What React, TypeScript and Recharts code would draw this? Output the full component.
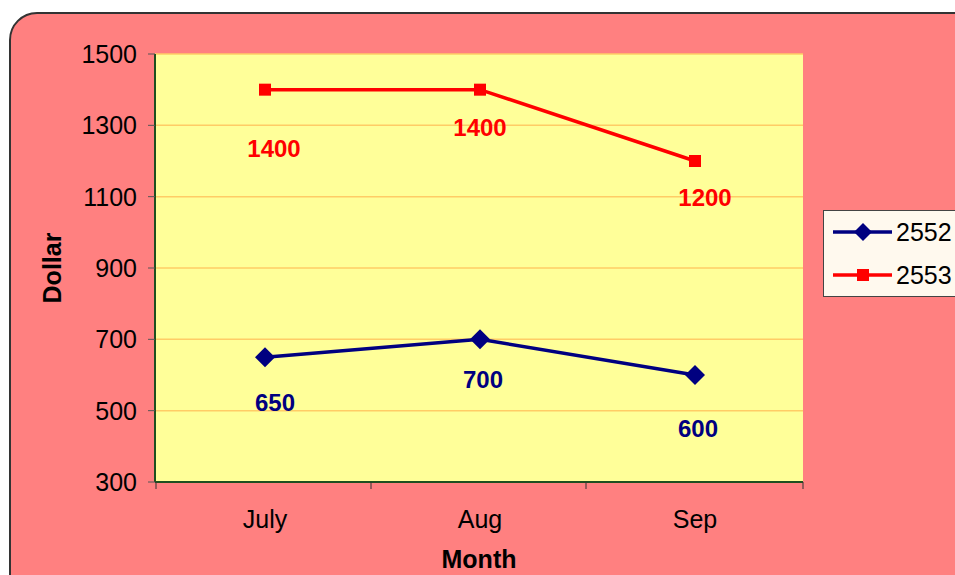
import { CartesianGrid, Line, LineChart, XAxis, YAxis } from "recharts";

const months = ["July", "Aug", "Sep"];
const values2552 = [650, 700, 600];
const values2553 = [1400, 1400, 1200];
const yTicks = [300, 500, 700, 900, 1100, 1300, 1500];

const data = months.map((month, i) => ({
  month,
  y2552: values2552[i],
  y2553: values2553[i],
}));

// label placement tweaks (Excel puts "below" labels a bit unevenly)
const blueLabelShift = [
  [10, 45],
  [3, 40],
  [3, 53],
];
const redLabelShift = [
  [9, 59],
  [0, 38],
  [10, 36],
];

const FONT = "'Liberation Sans', Arial, sans-serif";
const BLUE = "#000080";
const RED = "#FF0000";
const AXIS = "#1F4F1F";

function Diamond(props: any) {
  const { cx, cy } = props;
  if (cx == null || cy == null) return null;
  const r = 10;
  return (
    <path
      d={`M${cx},${cy - r}L${cx + r},${cy}L${cx},${cy + r}L${cx - r},${cy}Z`}
      fill={BLUE}
    />
  );
}

function Square(props: any) {
  const { cx, cy } = props;
  if (cx == null || cy == null) return null;
  return <rect x={cx - 6} y={cy - 6} width={12} height={12} fill={RED} />;
}

function makeLabel(color: string, shifts: number[][]) {
  return (props: any) => {
    const { x, y, value, index } = props;
    const [dx, dy] = shifts[index] || [0, 40];
    return (
      <text
        x={x + dx}
        y={y + dy}
        textAnchor="middle"
        dominantBaseline="central"
        fill={color}
        fontSize={24}
        fontWeight="bold"
        fontFamily={FONT}
      >
        {value}
      </text>
    );
  };
}

function MonthTick(props: any) {
  const { x, y, payload, index, visibleTicksCount } = props;
  const axisY = y - 8;
  return (
    <g>
      <line x1={x - 109} y1={axisY} x2={x - 109} y2={axisY + 7} stroke="#333" />
      {index === visibleTicksCount - 1 && (
        <line x1={x + 108} y1={axisY} x2={x + 108} y2={axisY + 7} stroke="#333" />
      )}
      <text
        x={x}
        y={axisY + 46}
        textAnchor="middle"
        fill="#000"
        fontSize={25}
        fontFamily={FONT}
      >
        {payload.value}
      </text>
    </g>
  );
}

function LegendBox() {
  const items = [
    { name: "2552", color: BLUE, shape: "diamond" },
    { name: "2553", color: RED, shape: "square" },
  ];
  return (
    <div
      style={{
        position: "absolute",
        left: 823,
        top: 210,
        width: 134,
        height: 87,
        background: "#FFF9EE",
        border: "1px solid #444",
        boxSizing: "border-box",
      }}
    >
      <svg width={134} height={87} style={{ display: "block" }}>
        {items.map((it, i) => {
          const cy = 21 + i * 43;
          return (
            <g key={it.name}>
              <line x1={9} y1={cy} x2={68} y2={cy} stroke={it.color} strokeWidth={3.5} />
              {it.shape === "diamond" ? (
                <path d={`M39,${cy - 9}L48,${cy}L39,${cy + 9}L30,${cy}Z`} fill={it.color} />
              ) : (
                <rect x={33} y={cy - 6} width={12} height={12} fill={it.color} />
              )}
              <text
                x={72}
                y={cy}
                dominantBaseline="central"
                fontSize={25}
                fontFamily={FONT}
                fill="#000"
              >
                {it.name}
              </text>
            </g>
          );
        })}
      </svg>
    </div>
  );
}

export default function App() {
  return (
    <div
      style={{
        position: "fixed",
        left: 0,
        top: 0,
        width: 955,
        height: 575,
        overflow: "hidden",
        background: "#fff",
      }}
    >
      <div
        style={{
          position: "absolute",
          left: 9,
          top: 12,
          width: 980,
          height: 600,
          background: "#FF8080",
          border: "2px solid #333",
          borderRadius: 28,
        }}
      />
      <div style={{ position: "absolute", left: 0, top: 0 }}>
        <LineChart
          width={955}
          height={575}
          data={data}
          margin={{ top: 54, right: 152, bottom: 53, left: 95 }}
        >
          <CartesianGrid
            vertical={false}
            stroke="#FFCC66"
            strokeWidth={1.5}
            fill="#FFFF99"
            fillOpacity={1}
          />
          <XAxis
            dataKey="month"
            padding={{ left: 110, right: 108 }}
            height={40}
            tickSize={8}
            tickMargin={0}
            tickLine={false}
            axisLine={{ stroke: AXIS, strokeWidth: 2 }}
            tick={<MonthTick />}
            label={{
              value: "Month",
              position: "insideBottom",
              offset: -46,
              fill: "#000",
              fontSize: 25,
              fontWeight: "bold",
              fontFamily: FONT,
            }}
          />
          <XAxis
            xAxisId="top"
            orientation="top"
            dataKey="month"
            height={0}
            tick={false}
            tickLine={false}
            axisLine={{ stroke: AXIS, strokeWidth: 1.5 }}
          />
          <YAxis
            domain={[300, 1500]}
            ticks={yTicks}
            width={60}
            tickSize={7}
            tickMargin={11}
            interval={0}
            tickLine={{ stroke: "#555" }}
            axisLine={{ stroke: AXIS, strokeWidth: 2 }}
            tick={{ fill: "#000", fontSize: 25, fontFamily: FONT }}
            label={{
              value: "Dollar",
              angle: -90,
              position: "insideLeft",
              offset: -43,
              fill: "#000",
              fontSize: 25,
              fontWeight: "bold",
              fontFamily: FONT,
              style: { textAnchor: "middle" },
            }}
          />
          <YAxis
            yAxisId="right"
            orientation="right"
            domain={[300, 1500]}
            width={0}
            tick={false}
            tickLine={false}
            axisLine={{ stroke: AXIS, strokeWidth: 1.5 }}
          />
          <Line
            dataKey="y2552"
            name="2552"
            stroke={BLUE}
            strokeWidth={3.5}
            dot={<Diamond />}
            activeDot={false}
            label={makeLabel(BLUE, blueLabelShift)}
            isAnimationActive={false}
          />
          <Line
            dataKey="y2553"
            name="2553"
            stroke={RED}
            strokeWidth={3.5}
            dot={<Square />}
            activeDot={false}
            label={makeLabel(RED, redLabelShift)}
            isAnimationActive={false}
          />
        </LineChart>
      </div>
      <LegendBox />
    </div>
  );
}
